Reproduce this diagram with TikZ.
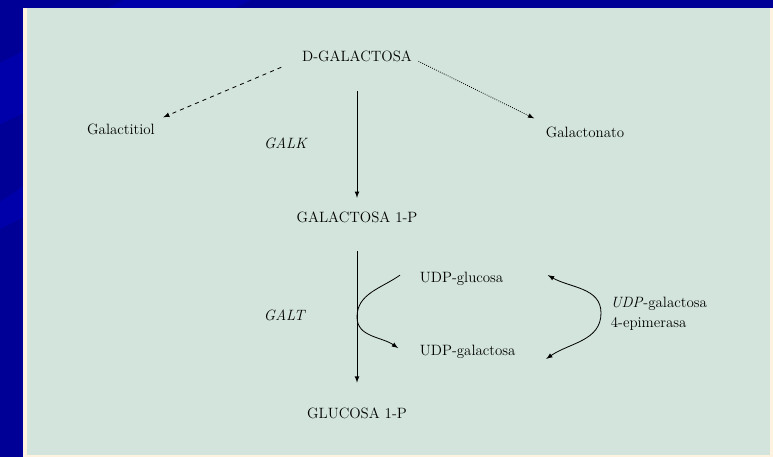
\documentclass[tikz,border=0pt]{standalone}
\usepackage{xcolor}
\usepackage{tikz}
\usetikzlibrary{calc, positioning}

\definecolor{fondoazul}{RGB}{0,0,150}
\definecolor{fondoazulclaro}{RGB}{0,0,170}
\definecolor{panelverde}{RGB}{210,228,220}
\definecolor{bordecrema}{RGB}{255,243,224}

\begin{document}
\begin{tikzpicture}[>=latex,
    txt/.style={font=\fontsize{11}{14.7}\selectfont},
    flecha/.style={->, line width=0.6pt},
    doble/.style={<->, line width=0.6pt}]
    \useasboundingbox (0,0) rectangle (20,11.824);

    % Fondo azul y panel
    \fill[fondoazul] (0,0) rectangle (20,11.824);
    \fill[fondoazulclaro] (0,10.2) -- (3.2,11.824) -- (6.5,11.824) -- (0,8.6) -- cycle;
    \fill[fondoazulclaro] (0,6.6) -- (0.595,7.0) -- (0.595,6.2) -- (0,5.9) -- cycle;
    \fill[bordecrema] (0.595,0) rectangle (20,11.617);
    \fill[panelverde] (0.699,0.052) rectangle (19.922,11.617);

    % Metabolitos
    \node[txt] (dgal) at (9.237,10.375) {D-GALACTOSA};
    \node[txt] (galtol) at (3.131,8.486) {Galactitiol};
    \node[txt] (galnato) at (15.136,8.409) {Galactonato};
    \node[txt] (gal1p) at (9.237,6.210) {GALACTOSA 1-P};
    \node[txt] (glc1p) at (9.237,1.138) {GLUCOSA 1-P};
    \node[txt, anchor=west] (udpglc) at (10.74,4.605) {UDP-glucosa};
    \node[txt, anchor=west] (udpgal) at (10.74,2.717) {UDP-galactosa};

    % Enzimas
    \node[txt] (galk) at (7.40,8.124) {\textit{GALK}};
    \node[txt] (galt) at (7.374,3.674) {\textit{GALT}};
    \node[txt, anchor=west, align=left] (epim) at (15.68,3.713) {\textit{UDP}-galactosa\\4-epimerasa};

    % Vias laterales
    \draw[flecha, dashed, shorten <=0.45cm, shorten >=0.1cm] ([yshift=0.15cm]dgal.south west) -- (galtol.north east);
    \draw[flecha, densely dotted, shorten <=0.05cm, shorten >=0.2cm] ([yshift=0.15cm]dgal.south east) -- (galnato.north west);

    % Via principal
    \draw[flecha, shorten <=0.65cm, shorten >=0.23cm] (dgal.south) -- (gal1p.north);
    \draw[flecha, shorten <=0.62cm, shorten >=0.52cm] (gal1p.south) -- (glc1p.north);

    % Curvas de UDP
    \coordinate (galtturn) at (9.237,3.62);
    \coordinate (epiturn) at (15.55,3.726);
    \draw[flecha] ([xshift=-0.39cm, yshift=0.1cm]udpglc.west) to[out=215, in=90] (galtturn)
        to[out=-90, in=145] ([xshift=-0.44cm, yshift=0.1cm]udpgal.west);
    \draw[doble] ([xshift=1.03cm, yshift=0.1cm]udpglc.east) to[out=-30, in=90] (epiturn)
        to[out=-90, in=35] ([xshift=0.67cm, yshift=-0.18cm]udpgal.east);
\end{tikzpicture}
\end{document}
